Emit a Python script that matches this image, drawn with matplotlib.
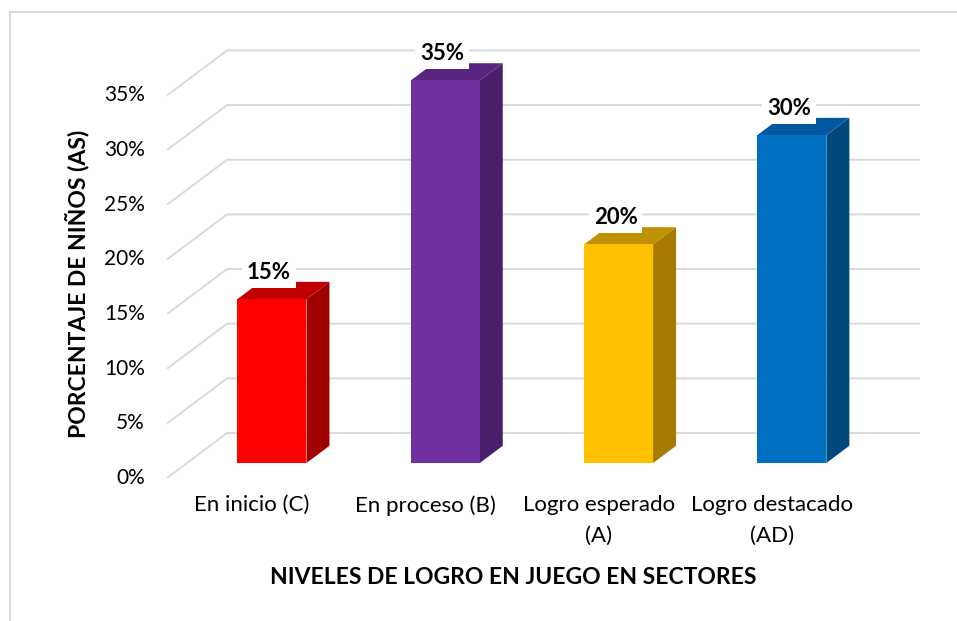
import numpy as np
import matplotlib.pyplot as plt
from matplotlib.patches import Rectangle, Polygon
from matplotlib.lines import Line2D

categories = ['En inicio (C)', 'En proceso (B)', 'Logro esperado\n(A)', 'Logro destacado\n(AD)']
values = [15, 35, 20, 30]
value_labels = ['15%', '35%', '20%', '30%']
front_colors = ['#FF0000', '#7030A0', '#FFC000', '#0070C0']
top_colors = ['#C00000', '#582680', '#BF9000', '#0058A0']
side_colors = ['#A00000', '#4A1F6A', '#A67C00', '#00497E']
yticks = [0, 5, 10, 15, 20, 25, 30, 35]
ytick_labels = ['0%', '5%', '10%', '15%', '20%', '25%', '30%', '35%']

plt.rcParams['font.family'] = ['Lato', 'DejaVu Sans']

W, H = 957, 621
fig = plt.figure(figsize=(W / 100, H / 100), dpi=100)
ax = fig.add_axes([0, 0, 1, 1])
ax.set_axis_off()

# pixel geometry of the front plane: x = 252 + 173.3*d, y(top) = 478 - 10.93*v
px_d = 173.3
px_v = 10.93
x0px, y0px = 252, 478
ax.set_xlim(-x0px / px_d, (W - x0px) / px_d)
ax.set_ylim((y0px - H) / px_v, y0px / px_v)

# depth vector (front plane -> back wall)
kx = 60 / px_d
ky = 45 / px_v
wall_x = (167 - x0px) / px_d
right_x = (860 - x0px) / px_d

# gridlines: diagonal on the side wall, horizontal on the back wall
for v in yticks:
    ax.plot([wall_x, wall_x + kx, right_x + kx], [v, v + ky, v + ky],
            color='#D9D9D9', lw=1.4, solid_capstyle='butt', zorder=1)

# tick labels
for v, lab in zip(yticks, ytick_labels):
    ax.text((145 - x0px) / px_d, v, lab, ha='right', va='center', fontsize=15, color='#000000')

# 3D-looking bars
t0 = 0.333
dt = 0.383
bw = 69 / px_d
for i, (v, lab) in enumerate(zip(values, value_labels)):
    x0 = i - bw / 2 + t0 * kx
    y0 = t0 * ky
    dx, dy = dt * kx, dt * ky
    ax.add_patch(Polygon([(x0 + bw, y0), (x0 + bw + dx, y0 + dy), (x0 + bw + dx, y0 + v + dy),
                          (x0 + bw, y0 + v)], closed=True, fc=side_colors[i], ec='none', zorder=3))
    ax.add_patch(Polygon([(x0, y0 + v), (x0 + bw, y0 + v), (x0 + bw + dx, y0 + v + dy),
                          (x0 + dx, y0 + v + dy)], closed=True, fc=top_colors[i], ec='none', zorder=3))
    ax.add_patch(Rectangle((x0, y0), bw, v, fc=front_colors[i], ec='none', zorder=4))
    ax.text(x0 + bw / 2 - 3 / px_d, y0 + v + 2.45, lab, ha='center', va='center',
            fontsize=16, fontweight='bold', zorder=6,
            bbox=dict(boxstyle='square,pad=0.22', fc='white', ec='none'))

# category labels
for i, cat in enumerate(categories):
    ax.text(i, (y0px - 495) / px_v, cat, ha='center', va='top', fontsize=16,
            linespacing=1.68)

ax.text((513 - x0px) / px_d, (y0px - 577) / px_v, 'NIVELES DE LOGRO EN JUEGO EN SECTORES',
        ha='center', va='center', fontsize=16.5, fontweight='bold')
ax.text((77 - x0px) / px_d, (y0px - 284) / px_v, 'PORCENTAJE DE NIÑOS (AS)',
        ha='center', va='center', rotation=90, fontsize=16.5, fontweight='bold')

# chart border
fig.add_artist(Line2D([10 / W, 10 / W], [0, 1 - 12 / H], transform=fig.transFigure,
                      color='#D9D9D9', lw=1.5))
fig.add_artist(Line2D([10 / W, 1], [1 - 12 / H, 1 - 12 / H], transform=fig.transFigure,
                      color='#D9D9D9', lw=1.5))

fig.savefig('out.png', dpi=100)
